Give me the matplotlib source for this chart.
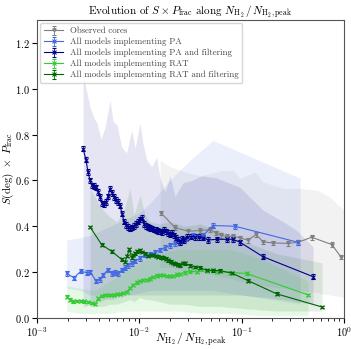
import matplotlib
matplotlib.use('Agg')
import matplotlib.pyplot as plt

plt.rcParams['font.family'] = 'serif'
plt.rcParams['font.serif'] = ['cmr10']
plt.rcParams['mathtext.fontset'] = 'cm'
plt.rcParams['axes.formatter.use_mathtext'] = True

# observed cores
obs_x = [0.01629, 0.02233, 0.03014, 0.03920, 0.04912, 0.05623, 0.06290, 0.07200, 0.08238,
         0.09638, 0.1155, 0.1383, 0.1618, 0.2027, 0.2844, 0.3556, 0.4842, 0.7603, 0.9378]
obs_y = [0.458, 0.394, 0.378, 0.381, 0.385, 0.370, 0.360, 0.355, 0.357,
         0.349, 0.339, 0.364, 0.332, 0.327, 0.325, 0.330, 0.352, 0.320, 0.265]

# all models PA
pa_x = [0.00195, 0.00230, 0.00268, 0.00306, 0.00330, 0.00378, 0.00413, 0.00442, 0.00491,
        0.00538, 0.00579, 0.00623, 0.00673, 0.00725, 0.00781, 0.00843, 0.00908, 0.01016,
        0.01137, 0.01272, 0.01424, 0.01594, 0.01782, 0.01995, 0.02233, 0.02499, 0.02862,
        0.03352, 0.04197, 0.05254, 0.08614, 0.3556]
pa_y = [0.194, 0.175, 0.204, 0.197, 0.201, 0.162, 0.168, 0.187, 0.209,
        0.194, 0.197, 0.194, 0.209, 0.219, 0.230, 0.238, 0.249, 0.260,
        0.274, 0.278, 0.286, 0.296, 0.307, 0.317, 0.325, 0.330, 0.345,
        0.360, 0.360, 0.403, 0.400, 0.330]

# all models PA + filtering
paf_x = [0.00282, 0.00301, 0.00315, 0.00330, 0.00345, 0.00361, 0.00378, 0.00395, 0.00413,
         0.00432, 0.00452, 0.00472, 0.00494, 0.00517, 0.00541, 0.00566, 0.00592, 0.00619,
         0.00648, 0.00677, 0.00708, 0.00741, 0.00776, 0.00811, 0.00849, 0.00888, 0.00929,
         0.00971, 0.01016, 0.01063, 0.01112, 0.01163, 0.01216, 0.01272, 0.01331, 0.01393,
         0.01457, 0.01524, 0.01594, 0.01667, 0.01743, 0.01823, 0.01908, 0.01995, 0.02087,
         0.02183, 0.02284, 0.02389, 0.02499, 0.02614, 0.02734, 0.02925, 0.03200, 0.03501,
         0.03836, 0.04197, 0.04698, 0.05754, 0.07200, 0.08238, 0.09638, 0.1618, 0.4989]
paf_y = [0.738, 0.690, 0.636, 0.600, 0.578, 0.575, 0.570, 0.550, 0.527,
         0.500, 0.496, 0.505, 0.530, 0.564, 0.545, 0.527, 0.515, 0.505,
         0.490, 0.455, 0.420, 0.405, 0.397, 0.390, 0.395, 0.400, 0.410,
         0.420, 0.430, 0.438, 0.410, 0.400, 0.397, 0.392, 0.390, 0.385,
         0.383, 0.380, 0.378, 0.375, 0.385, 0.378, 0.370, 0.365, 0.370,
         0.360, 0.350, 0.340, 0.330, 0.345, 0.340, 0.352, 0.355, 0.353,
         0.352, 0.350, 0.340, 0.343, 0.343, 0.343, 0.330, 0.267, 0.180]

# all models RAT
rat_x = [0.00195, 0.00210, 0.00227, 0.00246, 0.00268, 0.00288, 0.00315, 0.00345, 0.00369,
         0.00398, 0.00429, 0.00462, 0.00494, 0.00529, 0.00566, 0.00605, 0.00648, 0.00693,
         0.00753, 0.00811, 0.00873, 0.00943, 0.01016, 0.01087, 0.01180, 0.01272, 0.01371,
         0.01479, 0.01594, 0.01706, 0.01855, 0.01995, 0.02146, 0.02321, 0.02499, 0.02797,
         0.03133, 0.03643, 0.04560, 0.05711, 0.07704, 0.1122, 0.4487]
rat_y = [0.093, 0.080, 0.072, 0.073, 0.073, 0.072, 0.071, 0.065, 0.060,
         0.085, 0.097, 0.099, 0.100, 0.101, 0.100, 0.103, 0.104, 0.108,
         0.114, 0.130, 0.143, 0.155, 0.162, 0.165, 0.167, 0.172, 0.180,
         0.185, 0.187, 0.186, 0.183, 0.182, 0.184, 0.190, 0.192, 0.198,
         0.203, 0.201, 0.205, 0.202, 0.198, 0.194, 0.100]

# all models RAT + filtering
ratf_x = [0.00330, 0.00428, 0.00538, 0.00673, 0.00725, 0.00759, 0.00799, 0.00843, 0.00873,
          0.00908, 0.00951, 0.01016, 0.01063, 0.01137, 0.01225, 0.01301, 0.01371, 0.01457,
          0.01534, 0.01631, 0.01718, 0.01823, 0.01920, 0.02040, 0.02135, 0.02233, 0.02389,
          0.02499, 0.02673, 0.02797, 0.03133, 0.03501, 0.03920, 0.04560, 0.05254, 0.06151,
          0.07998, 0.1161, 0.2203, 0.6070]
ratf_y = [0.397, 0.320, 0.290, 0.255, 0.244, 0.270, 0.299, 0.262, 0.275,
          0.282, 0.290, 0.295, 0.288, 0.280, 0.270, 0.275, 0.274, 0.270,
          0.267, 0.265, 0.262, 0.258, 0.252, 0.245, 0.240, 0.236, 0.232,
          0.230, 0.240, 0.238, 0.228, 0.222, 0.219, 0.208, 0.207, 0.206,
          0.196, 0.162, 0.105, 0.048]

# spread envelopes (min / max over models)
obs_env_x = [0.01594, 0.01995, 0.02499, 0.03133, 0.03920, 0.04912, 0.06433, 0.08238,
             0.09638, 0.1352, 0.1618, 0.2540, 0.3724, 0.5458, 0.7312, 1.0]
obs_env_hi = [0.687, 0.660, 0.645, 0.630, 0.620, 0.630, 0.643, 0.643,
              0.610, 0.636, 0.593, 0.565, 0.565, 0.557, 0.527, 0.470]
obs_env_lo = [0.22, 0.22, 0.21, 0.20, 0.20, 0.19, 0.18, 0.17,
              0.16, 0.15, 0.14, 0.13, 0.12, 0.11, 0.10, 0.09]

pa_env_x = [0.00195, 0.002633, 0.00330, 0.00413, 0.00517, 0.00648, 0.00811, 0.01016,
            0.01272, 0.01594, 0.01995, 0.02499, 0.03352, 0.05254, 0.3724]
pa_env_hi = [0.34, 0.35, 0.36, 0.38, 0.40, 0.42, 0.44, 0.46,
             0.50, 0.55, 0.60, 0.645, 0.70, 0.774, 0.61]
pa_env_lo = [0.13, 0.12, 0.10, 0.10, 0.10, 0.10, 0.10, 0.11,
             0.12, 0.12, 0.12, 0.12, 0.12, 0.12, 0.06]

paf_env_x = [0.00282, 0.00301, 0.00330, 0.00361, 0.003860, 0.004222, 0.004620, 0.00517,
             0.005533, 0.006053, 0.00673, 0.00753, 0.00843, 0.00908, 0.01016, 0.01087,
             0.01180, 0.01322, 0.01479, 0.01594, 0.01782, 0.01995, 0.02233, 0.02673,
             0.03276, 0.04074, 0.05711, 0.09638, 0.1618, 0.2540, 0.3479, 0.4989]
paf_env_hi = [1.08, 1.00, 0.92, 0.87, 0.85, 0.78, 0.83, 0.95,
              0.86, 0.84, 0.745, 0.72, 0.82, 0.74, 0.85, 0.76,
              0.69, 0.66, 0.70, 0.61, 0.55, 0.62, 0.53, 0.59,
              0.60, 0.62, 0.61, 0.57, 0.47, 0.42, 0.38, 0.31]
paf_env_lo = [0.05, 0.05, 0.06, 0.06, 0.07, 0.07, 0.08, 0.08,
              0.08, 0.09, 0.09, 0.10, 0.10, 0.10, 0.10, 0.10,
              0.10, 0.10, 0.10, 0.10, 0.10, 0.10, 0.10, 0.10,
              0.10, 0.10, 0.10, 0.10, 0.09, 0.08, 0.07, 0.06]

rat_env_x = [0.00195, 0.002633, 0.00369, 0.00517, 0.00725, 0.01016, 0.01594, 0.02499,
             0.03920, 0.07704, 0.1513, 0.4457]
rat_env_hi = [0.14, 0.13, 0.12, 0.16, 0.20, 0.24, 0.28, 0.30, 0.30, 0.30, 0.26, 0.16]
rat_env_lo = [0.03, 0.02, 0.02, 0.02, 0.03, 0.03, 0.03, 0.03, 0.02, 0.02, 0.01, 0.01]

ratf_env_x = [0.00330, 0.00378, 0.00442, 0.00517, 0.006053, 0.00708, 0.00811, 0.008875,
              0.01016, 0.01137, 0.01272, 0.01594, 0.01995, 0.02797, 0.03920, 0.06151,
              0.1104, 0.2218, 0.6106]
ratf_env_hi = [0.565, 0.52, 0.47, 0.44, 0.42, 0.47, 0.565, 0.45,
               0.535, 0.45, 0.42, 0.41, 0.42, 0.40, 0.41, 0.38,
               0.33, 0.28, 0.24]
ratf_env_lo = [0.05, 0.05, 0.05, 0.06, 0.06, 0.07, 0.08, 0.07,
               0.09, 0.08, 0.08, 0.07, 0.06, 0.06, 0.05, 0.05,
               0.04, 0.03, 0.03]

c_obs = 'grey'
c_pa = 'royalblue'
c_paf = 'darkblue'
c_rat = 'limegreen'
c_ratf = 'darkgreen'

fig = plt.figure(figsize=(3.51, 3.49), dpi=100)
ax = fig.add_axes([0.1054, 0.089, 0.8746, 0.854])

ax.fill_between(obs_env_x, obs_env_lo, obs_env_hi, color=c_obs, alpha=0.1, lw=0)
ax.fill_between(pa_env_x, pa_env_lo, pa_env_hi, color=c_pa, alpha=0.1, lw=0)
ax.fill_between(paf_env_x, paf_env_lo, paf_env_hi, color=c_paf, alpha=0.1, lw=0)
ax.fill_between(rat_env_x, rat_env_lo, rat_env_hi, color=c_rat, alpha=0.12, lw=0)
ax.fill_between(ratf_env_x, ratf_env_lo, ratf_env_hi, color=c_ratf, alpha=0.1, lw=0)

kw = dict(lw=0.8, ms=2.5, mew=0.8, capsize=1.5, elinewidth=0.6, capthick=0.6)
ax.errorbar(obs_x, obs_y, yerr=0.01, color=c_obs, marker='v', label='Observed cores', **kw)
ax.errorbar(pa_x, pa_y, yerr=0.01, color=c_pa, marker='x', label='All models implementing PA', **kw)
ax.errorbar(paf_x, paf_y, yerr=0.012, color=c_paf, marker='x',
            label='All models implementing PA and filtering', **kw)
ax.errorbar(rat_x, rat_y, yerr=0.005, color=c_rat, marker='x',
            label='All models implementing RAT', **kw)
ax.errorbar(ratf_x, ratf_y, yerr=0.006, color=c_ratf, marker='x',
            label='All models implementing RAT and filtering', **kw)

ax.set_xscale('log')
ax.set_xlim(1e-3, 1)
ax.set_ylim(0, 1.3)
ax.set_yticks([0.0, 0.2, 0.4, 0.6, 0.8, 1.0, 1.2])
ax.tick_params(labelsize=7.5, pad=1.5)
ax.set_xlabel(r'$N_{\mathrm{H_2}}\,/\,N_{\mathrm{H_2,peak}}$', fontsize=8.5)
ax.set_ylabel(r'$S(\mathrm{deg})\ \times\ P_{\mathrm{frac}}$', fontsize=8)
ax.xaxis.set_label_coords(0.5, -0.042)
ax.yaxis.set_label_coords(-0.07, 0.5)
ax.set_title(r'Evolution of $S\times P_{\mathrm{frac}}$ along $N_{\mathrm{H_2}}\,/\,N_{\mathrm{H_2,peak}}$',
             fontsize=8, pad=4)
for s in ax.spines.values():
    s.set_color('#555555')

leg = ax.legend(loc='upper left', fontsize=6.3, handlelength=2.2, labelspacing=0.3,
                borderaxespad=0.4, handletextpad=0.8)
for t in leg.get_texts():
    t.set_color('#444444')

fig.savefig('out.png', dpi=100)
